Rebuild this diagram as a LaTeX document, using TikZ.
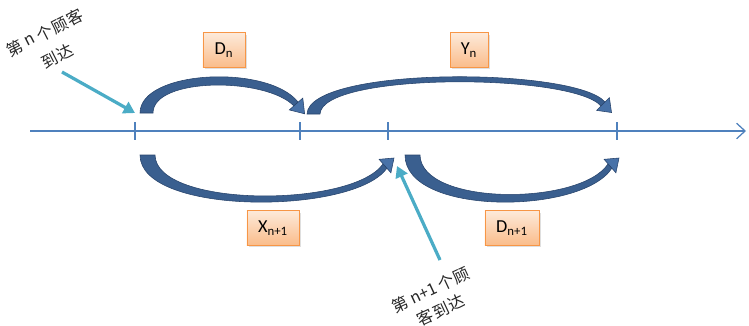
\documentclass[tikz,border=0pt]{standalone}
\usepackage{fontspec}
\setmainfont{Carlito}
\newfontfamily\cjk{Noto Sans CJK SC}
\usetikzlibrary{arrows.meta,shadows}
\definecolor{axisblue}{RGB}{79,129,189}
\definecolor{arcblue}{RGB}{58,95,143}
\definecolor{arcedge}{RGB}{40,68,108}
\definecolor{headblue}{RGB}{72,114,168}
\definecolor{pointercol}{RGB}{75,172,198}
\definecolor{boxedge}{RGB}{247,150,70}
\definecolor{boxtop}{RGB}{253,234,218}
\definecolor{boxbot}{RGB}{250,188,138}
\begin{document}
\begin{tikzpicture}[x=0.025cm,y=-0.025cm,
  lbl/.style={draw=boxedge, line width=0.6pt, top color=boxtop, bottom color=boxbot,
    minimum height=0.87cm, inner sep=0pt, font=\fontsize{13}{14}\selectfont,
    drop shadow={opacity=0.25,shadow xshift=0.04cm,shadow yshift=-0.05cm}},
  arcbody/.style={fill=arcblue, draw=arcedge, line width=0.4pt},
  archead/.style={fill=headblue, draw=arcedge, line width=0.4pt, line join=miter},
  axisline/.style={draw=axisblue, line width=0.9pt},
  pointer/.style={draw=pointercol, line width=2.3pt, -{Triangle[length=8pt,width=9pt]}},
  noteA/.style={font=\cjk\fontsize{11.5}{14}\selectfont, text=black!85, inner sep=0pt, rotate=27},
  noteB/.style={font=\cjk\fontsize{11.5}{14}\selectfont, text=black!85, inner sep=0pt, rotate=25}
]
\useasboundingbox (0,0) rectangle (749,325);

% axis
\coordinate (ax0) at (30,131);
\coordinate (ax1) at (746,131);
\draw[axisline, -{Straight Barb[length=6pt,width=11pt]}] (ax0) -- (ax1);
\foreach \x/\n in {135/t1,300/t2,388/t3,617/t4}{
  \coordinate (\n a) at (\x,122);
  \coordinate (\n b) at (\x,140);
  \draw[axisline] (\n a) -- (\n b);
}

% top arc D_n
\path[arcbody] (140,113) .. controls (140,70) and (268,64) .. (298,102)
  -- (294,106) .. controls (266,77) and (153,77) .. (153,113) -- cycle;
\path[archead] (302.8,98.1) -- (304.6,113.8) -- (289.3,109.9) -- cycle;

% top arc Y_n
\path[arcbody] (307,114) .. controls (309,66) and (575,67) .. (605,102)
  -- (601,106) .. controls (572,73) and (322,72) .. (320,114) -- cycle;
\path[archead] (609.4,97.6) -- (611.5,112.5) -- (596.6,110.4) -- cycle;

% bottom arc X_{n+1}
\path[arcbody] (140,155) .. controls (140,216) and (355,215) .. (387,168)
  -- (383,164) .. controls (352,208) and (156,208) .. (155,155) -- cycle;
\path[archead] (390.9,172.8) -- (394,158) -- (379.1,159.3) -- cycle;

% bottom arc D_{n+1}
\path[arcbody] (405,155) .. controls (405,216) and (582,215) .. (612,168)
  -- (608,164) .. controls (580,206) and (421,206) .. (420,155) -- cycle;
\path[archead] (615.9,172.8) -- (619,158) -- (604.1,159.3) -- cycle;

% labels
\node[lbl, minimum width=1.05cm] (dn)  at (224,50)  {D\textsubscript{n}};
\node[lbl, minimum width=0.95cm] (yn)  at (469,50)  {Y\textsubscript{n}};
\node[lbl, minimum width=1.3cm]  (xn)  at (273,228) {X\textsubscript{n+1}};
\node[lbl, minimum width=1.35cm] (dn1) at (512,228) {D\textsubscript{n+1}};

% annotation 1 (set along a line rising at 27 degrees)
\node[noteA] (c1a) at (14.7,48.4) {第};
\node[noteA] (c1b) at (29.9,40.7) {n};
\node[noteA] (c1c) at (45,33)     {个};
\node[noteA] (c1d) at (60.1,25.3) {顾};
\node[noteA] (c1e) at (75.3,17.6) {客};
\node[noteA] (c1f) at (49.4,59.9) {到};
\node[noteA] (c1g) at (64.6,52.1) {达};

% annotation 2 (set along a line rising at 25 degrees)
\node[noteB] (c2a) at (400.1,304.2) {第};
\node[noteB] (c2b) at (423.3,293.4) {n+1};
\node[noteB] (c2c) at (446.4,282.6) {个};
\node[noteB] (c2d) at (460.9,275.8) {顾};
\node[noteB] (c2e) at (425.6,317.2) {客};
\node[noteB] (c2f) at (441,310)     {到};
\node[noteB] (c2g) at (456.4,302.8) {达};

\coordinate (p1s) at (62,72);
\coordinate (p1e) at (135,113);
\coordinate (p2s) at (440,260);
\coordinate (p2e) at (397,166);
\draw[pointer] (p1s) -- (p1e);
\draw[pointer] (p2s) -- (p2e);
\end{tikzpicture}
\end{document}
